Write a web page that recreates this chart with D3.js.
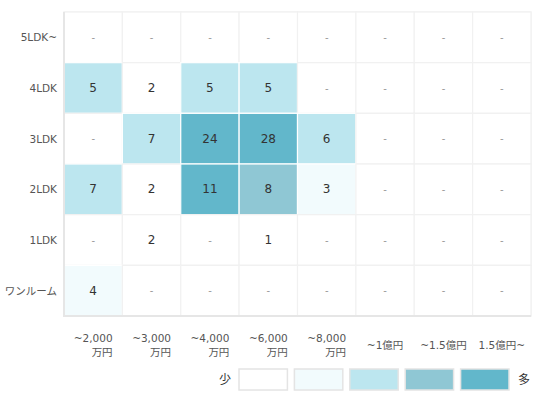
<!DOCTYPE html>
<html><head><meta charset="utf-8">
<script src="https://cdn.jsdelivr.net/npm/d3@7"></script>
<style>
html,body{margin:0;padding:0;background:#fff;}
svg{display:block;font-family:"DejaVu Sans","Noto Sans CJK JP",sans-serif;}
</style></head>
<body>
<svg id="chart" width="545" height="403"></svg>
<script>
const priceLabels = ["~2,000\n万円","~3,000\n万円","~4,000\n万円","~6,000\n万円","~8,000\n万円","~1億円","~1.5億円","1.5億円~"];
const layoutLabels = ["5LDK~","4LDK","3LDK","2LDK","1LDK","ワンルーム"];
const counts5LDK = [0,0,0,0,0,0,0,0];
const counts4LDK = [5,2,5,5,0,0,0,0];
const counts3LDK = [0,7,24,28,6,0,0,0];
const counts2LDK = [7,2,11,8,3,0,0,0];
const counts1LDK = [0,2,0,1,0,0,0,0];
const countsOneRoom = [4,0,0,0,0,0,0,0];
const legendLow = "少", legendHigh = "多";
const colorThresholds = [3,5,8,11];
const colorRange = ["#ffffff","#f2fbfd","#bce6ef","#8fc7d4","#62b7cb"];

const rowsData = [counts5LDK,counts4LDK,counts3LDK,counts2LDK,counts1LDK,countsOneRoom];
const cells = [];
rowsData.forEach((r,ri)=>r.forEach((v,ci)=>cells.push({row:layoutLabels[ri],col:priceLabels[ci],value:v})));

const svg = d3.select("#chart");
const pL=64, pR=531, pT=12, pB=316;
const x = d3.scaleBand().domain(priceLabels).range([pL,pR]);
const y = d3.scaleBand().domain(layoutLabels).range([pT,pB]);
const color = d3.scaleThreshold().domain(colorThresholds).range(colorRange);

svg.append("rect").attr("x",pL).attr("y",pT).attr("width",pR-pL).attr("height",pB-pT)
  .attr("fill","#fff").attr("stroke","#f0f0f0").attr("stroke-width",1);

svg.append("g").selectAll("rect").data(cells).join("rect")
  .attr("x",d=>x(d.col)).attr("y",d=>y(d.row))
  .attr("width",x.bandwidth()).attr("height",y.bandwidth())
  .attr("fill",d=>color(d.value))
  .attr("stroke",d=>d.value>=colorThresholds[0]?"#ffffff":"#f1f1f1").attr("stroke-width",1.2);

svg.append("g").selectAll("text").data(cells).join("text")
  .attr("x",d=>x(d.col)+x.bandwidth()/2)
  .attr("y",d=>y(d.row)+y.bandwidth()/2)
  .attr("text-anchor","middle").attr("dominant-baseline","central")
  .attr("font-size",d=>d.value?12:10)
  .attr("fill",d=>d.value?"#333":"#999")
  .text(d=>d.value?d.value:"-");

svg.append("line").attr("x1",pL).attr("x2",pL).attr("y1",pT).attr("y2",pB+1)
  .attr("stroke","#e6e6e6").attr("stroke-width",2);
svg.append("line").attr("x1",pL).attr("x2",pR).attr("y1",pB).attr("y2",pB)
  .attr("stroke","#e6e6e6").attr("stroke-width",2);

svg.append("g").selectAll("text").data(layoutLabels).join("text")
  .attr("x",pL-7).attr("y",d=>y(d)+y.bandwidth()/2)
  .attr("text-anchor","end").attr("dominant-baseline","central")
  .attr("font-size",10.5).attr("fill","#555").text(d=>d);

const xl = svg.append("g").selectAll("g").data(priceLabels).join("g")
  .attr("transform",d=>`translate(${x(d)+x.bandwidth()/2},0)`);
xl.each(function(d){
  const lines = d.split("\n");
  const g = d3.select(this);
  if(lines.length===1){
    g.append("text").attr("y",345).attr("text-anchor","middle").attr("dominant-baseline","central")
      .attr("font-size",10.5).attr("fill","#555").text(lines[0]);
  } else {
    const t = g.append("text").attr("font-size",10.5).attr("fill","#555").attr("dominant-baseline","central");
    t.append("tspan").attr("x",0).attr("y",338).attr("text-anchor","middle").text(lines[0]);
    const w = t.node().getComputedTextLength();
    t.append("tspan").attr("x",w/2).attr("y",352).attr("text-anchor","end").text(lines[1]);
  }
});

const lx = d3.scaleBand().domain(d3.range(colorRange.length)).range([238,510]).paddingInner(0.09);
svg.append("g").selectAll("rect").data(colorRange).join("rect")
  .attr("x",(d,i)=>lx(i)+1).attr("y",369).attr("width",lx.bandwidth()-2).attr("height",21)
  .attr("fill",d=>d).attr("stroke","#e4e4e4").attr("stroke-width",1.5);
svg.append("text").attr("x",225).attr("y",380).attr("text-anchor","middle").attr("dominant-baseline","central")
  .attr("font-size",12).attr("fill","#333").text(legendLow);
svg.append("text").attr("x",524).attr("y",380).attr("text-anchor","middle").attr("dominant-baseline","central")
  .attr("font-size",12).attr("fill","#333").text(legendHigh);
</script>
</body></html>
